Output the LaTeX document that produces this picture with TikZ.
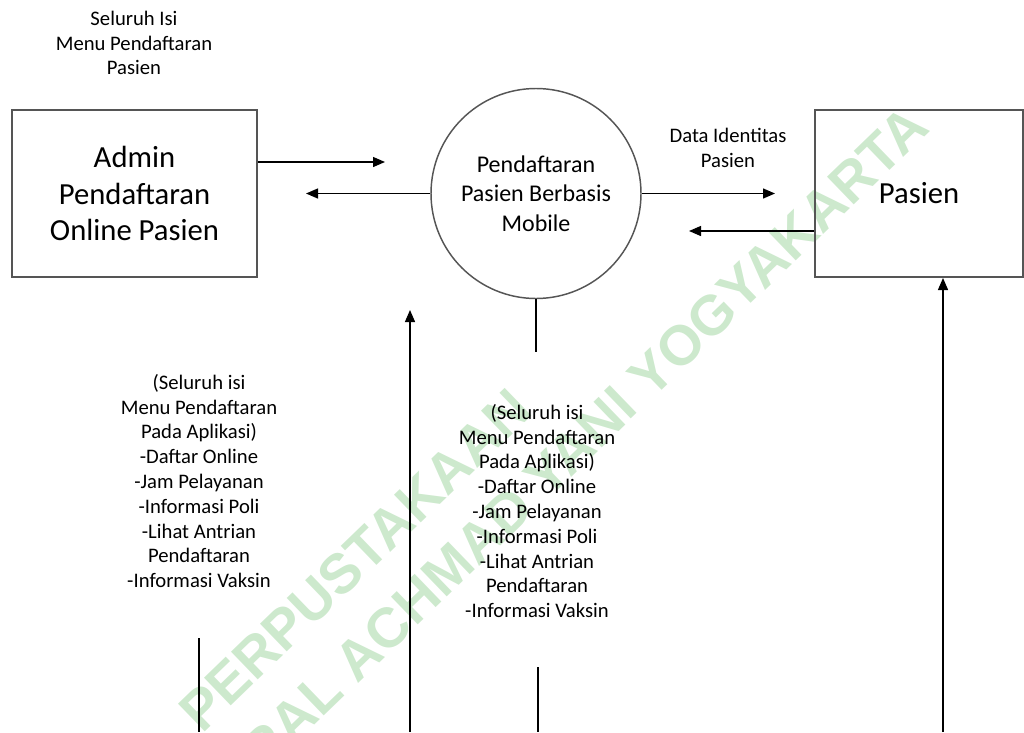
\documentclass[tikz,border=0pt]{standalone}
\usepackage{fontspec}
\setmainfont{Carlito}
\newfontfamily\wmfont{Liberation Sans}
\usetikzlibrary{arrows.meta}
\definecolor{wmgreen}{RGB}{205,233,205}
\definecolor{boxgray}{RGB}{85,85,85}
\begin{document}
\begin{tikzpicture}[x=0.75pt,y=-0.75pt,
  flow/.style={draw=black,line width=1pt,-{Triangle[length=9pt,width=7.5pt]}},
  plain/.style={draw=black,line width=1pt},
  entity/.style={draw=boxgray,line width=1.5pt,inner sep=0,align=center,
    font=\fontsize{23pt}{27.4pt}\selectfont},
  process/.style={draw=boxgray,line width=1.1pt,circle,inner sep=0,align=center,
    minimum size=157.5pt,font=\fontsize{18pt}{22pt}\selectfont},
  lbl/.style={align=center,inner sep=0,font=\fontsize{15.5pt}{18.6pt}\selectfont},
  wm/.style={text=wmgreen,inner sep=0,rotate=44,
    font=\wmfont\bfseries\fontsize{42pt}{42pt}\selectfont}]
\useasboundingbox (0,0) rectangle (1024,732);
% watermark
\begin{scope}
\clip (0,0) rectangle (1024,732);
\node[wm,anchor=east] (wm2) at (918,116) {UNIVERSITAS JENDERAL ACHMAD YANI YOGYAKARTA};
\node[wm] (wm1) at (355,560) {PERPUSTAKAAN};
\end{scope}
% entities and process
\node[entity,minimum width=183.75pt,minimum height=125.25pt] (admin) at (134.5,193.5)
  {Admin\\Pendaftaran\\Online Pasien};
\node[entity,minimum width=156pt,minimum height=125.25pt] (pasien) at (919,193.5) {Pasien};
\node[process] (proc) at (536,193.5) {Pendaftaran\\Pasien Berbasis\\Mobile};
% labels
\node[lbl] (toplbl) at (134,43) {Seluruh Isi\\Menu Pendaftaran\\Pasien};
\node[lbl,font=\fontsize{15.5pt}{18.75pt}\selectfont] (datalbl) at (728,148) {Data Identitas\\Pasien};
\node[lbl] (leftlist) at (199,481) {(Seluruh isi\\Menu Pendaftaran\\Pada Aplikasi)\\-Daftar Online\\-Jam Pelayanan\\-Informasi Poli\\-Lihat Antrian\\Pendaftaran\\-Informasi Vaksin};
\node[lbl] (midlist) at (537,511) {(Seluruh isi\\Menu Pendaftaran\\Pada Aplikasi)\\-Daftar Online\\-Jam Pelayanan\\-Informasi Poli\\-Lihat Antrian\\Pendaftaran\\-Informasi Vaksin};
% connector ends
\coordinate (p1) at (385,162);
\coordinate (p2) at (306,194);
\coordinate (p3) at (775,194);
\coordinate (p4) at (689,231);
\coordinate (p5) at (536,352);
\coordinate (p6s) at (410,732);
\coordinate (p6e) at (410,310);
\coordinate (p7s) at (199,638);
\coordinate (p7e) at (199,732);
\coordinate (p8s) at (538,667);
\coordinate (p8e) at (538,732);
\coordinate (p9) at (943,732);
% connectors
\draw[flow] (admin.east |- p1) -- (p1);
\draw[flow] (proc.west) -- (proc.west -| p2);
\draw[flow] (proc.east) -- (proc.east -| p3);
\draw[flow] (pasien.west |- p4) -- (p4);
\draw[plain] (proc.south) -- (p5);
\draw[flow] (p6s) -- (p6e);
\draw[plain] (p7s) -- (p7e);
\draw[plain] (p8s) -- (p8e);
\draw[flow] (p9) -- (pasien.south -| p9);
\end{tikzpicture}
\end{document}
